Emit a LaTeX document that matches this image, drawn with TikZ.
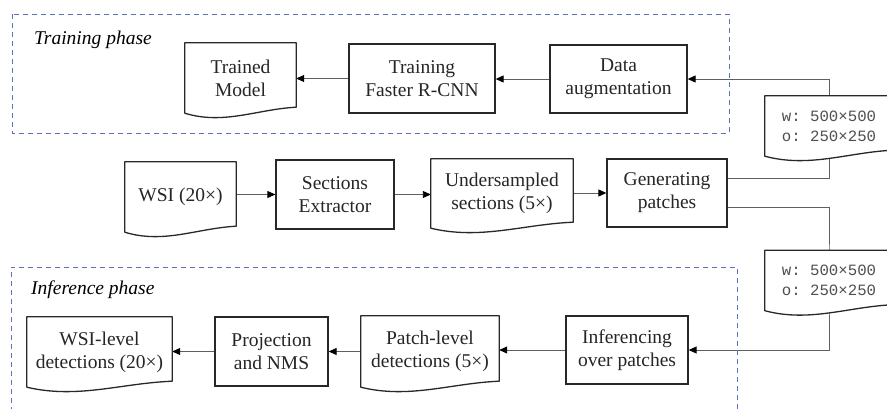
\documentclass[tikz,border=0pt]{standalone}
\usepackage{fontspec}
\setmainfont{Liberation Serif}
\setmonofont{Liberation Mono}
\usetikzlibrary{arrows.meta,calc}
\definecolor{phaseblue}{RGB}{95,112,190}
\definecolor{boxline}{RGB}{40,40,40}
\definecolor{wire}{RGB}{95,95,95}
\definecolor{cfgtext}{RGB}{80,80,80}
\pgfdeclarelayer{wires}
\pgfdeclarelayer{docs}
\pgfsetlayers{wires,docs,main}
\begin{document}
\begin{tikzpicture}[x=1pt,y=-1pt,
  font=\fontsize{19.5}{23}\selectfont,
  stepbox/.style={draw=boxline, line width=1.3pt, fill=white, align=center,
    inner sep=0pt, text=black!85},
  docnode/.style={align=center, inner sep=0pt, text=black!85},
  docline/.style={draw=boxline, line width=1.3pt, fill=white, line join=round},
  cfgnode/.style={align=left, inner sep=0pt, text=cfgtext,
    font=\ttfamily\fontsize{15.7}{20}\selectfont,
    minimum width=128pt, minimum height=60pt},
  phasebox/.style={draw=phaseblue, line width=1pt, dash pattern=on 5pt off 4pt},
  phaselabel/.style={anchor=west, inner sep=0pt, font=\itshape\fontsize{19.5}{23}\selectfont},
  arr/.style={draw=wire, line width=0.9pt, -{Triangle[length=8pt,width=7pt,color=black]}}]
\useasboundingbox (0,0) rectangle (887,408);
\begin{pgfonlayer}{wires}
\fill[white] (0,0) rectangle (887,408);
\end{pgfonlayer}

% phase frames (the inference frame runs on below the lower edge)
\draw[phasebox] (12,14) rectangle (729,133);
\draw[phasebox] (11,412) -- (11,267) -- (737,267) -- (737,412);
\node[phaselabel] (tlabel) at (34,40) {Training phase};
\node[phaselabel] (ilabel) at (31,290) {Inference phase};

% training row
\node[docnode, minimum width=111pt, minimum height=70pt] (model) at (240.5,78) {Trained\\Model};
\node[stepbox, minimum width=146pt, minimum height=69pt] (train) at (422,78.5) {Training\\Faster R-CNN};
\node[stepbox, minimum width=137pt, minimum height=68pt] (aug) at (618.5,79) {Data\\augmentation};

% preprocessing row
\node[docnode, minimum width=111pt, minimum height=70pt] (wsi) at (180.5,197) {WSI (20×)};
\node[stepbox, minimum width=118pt, minimum height=69pt] (sec) at (335,194.5) {Sections\\Extractor};
\node[docnode, minimum width=142pt, minimum height=69pt] (under) at (502,193.5) {Undersampled\\sections (5×)};
\node[stepbox, minimum width=120pt, minimum height=68pt] (gen) at (667,193) {Generating\\patches};

% patch settings
\node[cfgnode] (cfgA) at (829,126) {w: 500×500\\o: 250×250};
\node[cfgnode] (cfgB) at (829,280.5) {w: 500×500\\o: 250×250};

% inference row
\node[docnode, minimum width=145pt, minimum height=70pt] (wsidet) at (99.5,352) {WSI-level\\detections (20×)};
\node[stepbox, minimum width=113pt, minimum height=69pt] (proj) at (271.5,351.5) {Projection\\and NMS};
\node[docnode, minimum width=138pt, minimum height=71pt] (patchdet) at (430,351.5) {Patch-level\\detections (5×)};
\node[stepbox, minimum width=122pt, minimum height=68pt] (inf) at (627,350) {Inferencing\\over patches};

% document outlines with wavy bottom
\begin{pgfonlayer}{docs}
\foreach \n in {model,wsi,under,patchdet,wsidet,cfgA,cfgB}{
  \draw[docline] (\n.south west) -- (\n.north west) -- (\n.north east)
    -- ([yshift=6pt]\n.south east)
    .. controls ($(\n.south west)!0.65!(\n.south east)+(0,-4)$)
            and ($(\n.south west)!0.35!(\n.south east)+(0,12)$) .. (\n.south west)
    -- cycle;
}
\end{pgfonlayer}

% connectors
\begin{pgfonlayer}{wires}
\draw[arr] (aug.west) -- (aug.west -| train.east);
\draw[arr] (train.west) -- (train.west -| model.east);
\draw[arr] (wsi.east |- sec.west) -- (sec.west);
\draw[arr] (sec.east) -- (sec.east -| under.west);
\draw[arr] (under.east |- gen.west) -- (gen.west);
\draw[arr] ([yshift=15pt]gen.east) -| (cfgA.center) |- (aug.east);
\draw[arr] ([yshift=-14pt]gen.east) -| (cfgB.center) |- (inf.east);
\draw[arr] (inf.west) -- (inf.west -| patchdet.east);
\draw[arr] (patchdet.west |- proj.east) -- (proj.east);
\draw[arr] (proj.west) -- (proj.west -| wsidet.east);
\end{pgfonlayer}
\end{tikzpicture}
\end{document}
